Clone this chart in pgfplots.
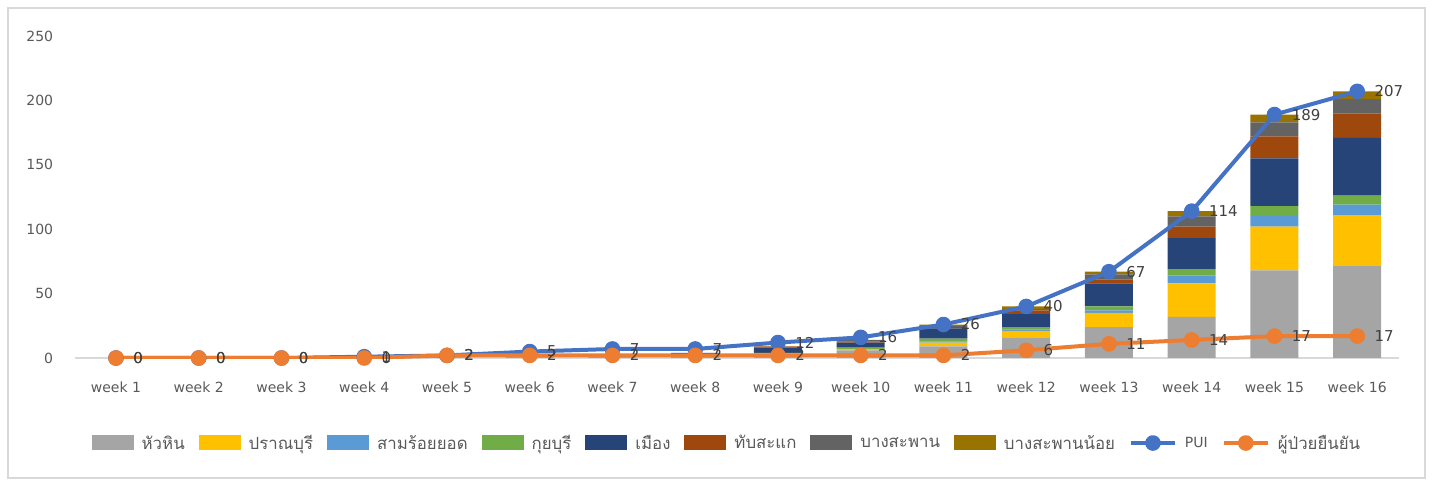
\documentclass[border=0pt]{standalone}
\usepackage{fontspec}
\setmainfont{DejaVu Sans}
\newfontfamily\thaifont[Script=Thai,Scale=1.2]{Loma}
\usepackage{pgfplots}
\pgfplotsset{compat=1.18}
\definecolor{cgray}{HTML}{A5A5A5}
\definecolor{cyellow}{HTML}{FFC000}
\definecolor{clblue}{HTML}{5B9BD5}
\definecolor{cgreen}{HTML}{70AD47}
\definecolor{cnavy}{HTML}{264478}
\definecolor{cbrown}{HTML}{9E480E}
\definecolor{cdgray}{HTML}{636363}
\definecolor{colive}{HTML}{997300}
\definecolor{pblue}{HTML}{4472C4}
\definecolor{porange}{HTML}{ED7D31}
\definecolor{tickgray}{HTML}{595959}
\definecolor{labgray}{HTML}{404040}
\definecolor{axisgray}{HTML}{D9D9D9}
\definecolor{framegray}{HTML}{D9D9D9}
\pgfplotsset{
  base/.style={
    scale only axis, width=1324bp, height=322bp,
    at={(74.6bp,122bp)}, anchor=south west,
    xmin=-0.5, xmax=15.5, ymin=0, ymax=250,
    /pgf/number format/assume math mode=true,
  },
  bararea/.style={fill=#1, draw=none},
}
\begin{document}
\begin{tikzpicture}[font=\fontsize{14bp}{17bp}\selectfont]
\path[use as bounding box] (0,0) rectangle (1433bp,480bp);
\draw[color=framegray, line width=1.2bp] (8bp,2bp) rectangle (1425bp,472bp);
\begin{axis}[base,
  ybar stacked, bar width=0.58,
  axis x line=bottom, axis y line=left,
  y axis line style={draw=none},
  x axis line style={draw=axisgray, line width=1.3bp, -},
  major tick length=0,
  xtick={0,...,15},
  xticklabels={week 1,week 2,week 3,week 4,week 5,week 6,week 7,week 8,week 9,week 10,week 11,week 12,week 13,week 14,week 15,week 16},
  ytick={0,50,100,150,200,250},
  xticklabel style={text=tickgray, yshift=-20bp},
  yticklabel style={text=tickgray, xshift=-18bp},
]
\addplot[bararea=cgray] coordinates {(0,0)(1,0)(2,0)(3,0)(4,1)(5,1)(6,2)(7,2)(8,3)(9,6)(10,9)(11,16)(12,24)(13,32)(14,68)(15,72)};
\addplot[bararea=cyellow] coordinates {(0,0)(1,0)(2,0)(3,0)(4,0)(5,0)(6,0)(7,0)(8,1)(9,1)(10,3)(11,5)(12,11)(13,26)(14,34)(15,39)};
\addplot[bararea=clblue] coordinates {(0,0)(1,0)(2,0)(3,0)(4,0)(5,0)(6,0)(7,0)(8,0)(9,0)(10,1)(11,1)(12,2)(13,6)(14,9)(15,8)};
\addplot[bararea=cgreen] coordinates {(0,0)(1,0)(2,0)(3,0)(4,0)(5,0)(6,0)(7,0)(8,0)(9,1)(10,2)(11,2)(12,3)(13,5)(14,7)(15,7)};
\addplot[bararea=cnavy] coordinates {(0,0)(1,0)(2,0)(3,0)(4,0)(5,1)(6,1)(7,2)(8,4)(9,4)(10,8)(11,10)(12,18)(13,24)(14,37)(15,45)};
\addplot[bararea=cbrown] coordinates {(0,0)(1,0)(2,0)(3,0)(4,0)(5,0)(6,0)(7,0)(8,1)(9,1)(10,1)(11,3)(12,3)(13,9)(14,17)(15,19)};
\addplot[bararea=cdgray] coordinates {(0,0)(1,0)(2,0)(3,0)(4,0)(5,0)(6,0)(7,0)(8,0)(9,1)(10,1)(11,1)(12,4)(13,8)(14,11)(15,11)};
\addplot[bararea=colive] coordinates {(0,0)(1,0)(2,0)(3,0)(4,0)(5,0)(6,0)(7,0)(8,0)(9,0)(10,1)(11,2)(12,2)(13,4)(14,6)(15,6)};
\end{axis}
\begin{axis}[base, hide axis,
  legend columns=10,
  legend style={at={(0.4927,-0.264)}, anchor=center, draw=none, fill=none,
    text=tickgray, font=\fontsize{14bp}{17bp}\selectfont,
    /tikz/every odd column/.append style={column sep=6bp},
    /tikz/every even column/.append style={column sep=12bp}},
  legend cell align=left,
  barleg/.style={legend image code/.code={\fill[##1] (0bp,-7bp) rectangle (42bp,8bp);}},
  lineleg/.style={legend image code/.code={\draw[##1, mark repeat=2, mark phase=2] plot coordinates {(0bp,0bp)(22bp,0bp)(44bp,0bp)};}},
]
\addlegendimage{barleg, fill=cgray, draw=none}
\addlegendentry{\thaifont หัวหิน}
\addlegendimage{barleg, fill=cyellow, draw=none}
\addlegendentry{\thaifont ปราณบุรี}
\addlegendimage{barleg, fill=clblue, draw=none}
\addlegendentry{\thaifont สามร้อยยอด}
\addlegendimage{barleg, fill=cgreen, draw=none}
\addlegendentry{\thaifont กุยบุรี}
\addlegendimage{barleg, fill=cnavy, draw=none}
\addlegendentry{\thaifont เมือง}
\addlegendimage{barleg, fill=cbrown, draw=none}
\addlegendentry{\thaifont ทับสะแก}
\addlegendimage{barleg, fill=cdgray, draw=none}
\addlegendentry{\thaifont บางสะพาน}
\addlegendimage{barleg, fill=colive, draw=none}
\addlegendentry{\thaifont บางสะพานน้อย}
\addplot[lineleg, color=pblue, line width=4bp, line join=round, mark=*, mark size=5.8bp,
  nodes near coords={\pgfmathprintnumber[fixed,precision=0]{\pgfplotspointmeta}},
  nodes near coords style={anchor=west, xshift=12bp, text=labgray, font=\fontsize{15bp}{17bp}\selectfont}]
  coordinates {(0,0)(1,0)(2,0)(3,1)(4,2)(5,5)(6,7)(7,7)(8,12)(9,16)(10,26)(11,40)(12,67)(13,114)(14,189)(15,207)};
\addlegendentry{PUI}
\addplot[lineleg, color=porange, line width=4bp, line join=round, mark=*, mark size=5.8bp,
  nodes near coords={\pgfmathprintnumber[fixed,precision=0]{\pgfplotspointmeta}},
  nodes near coords style={anchor=west, xshift=12bp, text=labgray, font=\fontsize{15bp}{17bp}\selectfont}]
  coordinates {(0,0)(1,0)(2,0)(3,0)(4,2)(5,2)(6,2)(7,2)(8,2)(9,2)(10,2)(11,6)(12,11)(13,14)(14,17)(15,17)};
\addlegendentry{\thaifont ผู้ป่วยยืนยัน}
\end{axis}
\end{tikzpicture}
\end{document}
